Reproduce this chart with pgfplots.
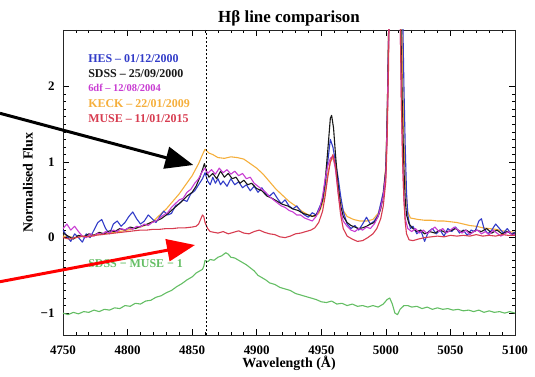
\documentclass[border=0pt]{standalone}
\usepackage{fontspec}
\setmainfont{Liberation Serif}
\usepackage{pgfplots}
\pgfplotsset{compat=1.18}
\usetikzlibrary{arrows.meta}
\definecolor{hesblue}{RGB}{50,60,200}
\definecolor{sdssblack}{RGB}{25,25,25}
\definecolor{sixdf}{RGB}{200,60,210}
\definecolor{keck}{RGB}{245,175,60}
\definecolor{muse}{RGB}{215,60,80}
\definecolor{diffgreen}{RGB}{100,190,100}
\begin{document}
\begin{tikzpicture}[x=1bp,y=1bp]
\begin{axis}[
  scale only axis, width=452bp, height=305bp,
  xmin=4750, xmax=5100, ymin=-1.29, ymax=2.75,
  xtick={4750,4800,4850,4900,4950,5000,5050,5100},
  xticklabels={4750,4800,4850,4900,4950,5000,5050,5100},
  minor x tick num=4,
  ytick={-1,0,1,2}, yticklabels={−1,0,1,2}, minor y tick num=9,
  every tick label/.append style={font=\fontsize{13}{15}\selectfont\bfseries},
  xticklabel style={yshift=-7bp},
  yticklabel style={xshift=-5bp},
  major tick length=6bp, minor tick length=3bp,
  every tick/.style={black, line width=0.7bp},
  axis line style={line width=0.9bp, black!85},
  title={Hβ line comparison},
  title style={font=\fontsize{17}{20}\selectfont\bfseries, yshift=-6bp},
  xlabel={Wavelength (Å)},
  ylabel={Normalised Flux},
  label style={font=\fontsize{14}{16}\selectfont\bfseries},
  xlabel style={yshift=5bp},
  ylabel style={yshift=1bp},
  every axis plot/.append style={line width=1.1bp, line join=round},
]
% KECK
\addplot[keck] coordinates {(4750,0.02)(4760,0.0)(4770,0.03)(4780,0.05)(4790,0.07)(4800,0.1)(4810,0.14)(4815,0.17)(4820,0.22)(4825,0.3)(4830,0.38)(4835,0.48)(4840,0.58)(4845,0.7)(4850,0.82)(4855,0.98)(4858,1.1)(4860,1.17)(4863,1.12)(4866,1.1)(4870,1.06)(4875,1.05)(4880,1.07)(4885,1.06)(4890,1.04)(4895,0.98)(4900,0.92)(4905,0.84)(4910,0.74)(4915,0.64)(4920,0.56)(4925,0.48)(4930,0.42)(4935,0.35)(4940,0.3)(4945,0.28)(4948,0.32)(4951,0.45)(4953,0.62)(4955,0.85)(4957,1.0)(4959,1.06)(4961,0.95)(4963,0.7)(4965,0.48)(4967,0.36)(4970,0.28)(4975,0.24)(4980,0.22)(4985,0.22)(4990,0.24)(4994,0.32)(4996,0.42)(4998,0.6)(5000,0.95)(5001,1.6)(5002,2.6)(5003,4)(5005,8)(5007,10)(5009,8.5)(5011,5.5)(5012,3.5)(5013,2.2)(5014,1.3)(5015,0.8)(5016,0.5)(5017,0.34)(5019,0.26)(5025,0.24)(5030,0.23)(5035,0.23)(5040,0.22)(5045,0.22)(5050,0.21)(5055,0.2)(5060,0.18)(5065,0.16)(5070,0.15)(5075,0.13)(5080,0.12)(5085,0.11)(5090,0.09)(5095,0.08)(5100,0.07)};
% HES
\addplot[hesblue] coordinates {(4750,0.1)(4753,0.02)(4756,-0.05)(4759,0.05)(4762,0.0)(4765,-0.06)(4768,0.05)(4771,0.0)(4774,0.1)(4777,0.2)(4780,0.24)(4783,0.12)(4786,0.05)(4789,0.18)(4792,0.22)(4795,0.15)(4798,0.2)(4801,0.28)(4804,0.34)(4807,0.25)(4810,0.18)(4813,0.22)(4816,0.3)(4819,0.25)(4822,0.2)(4825,0.28)(4828,0.35)(4831,0.3)(4834,0.32)(4837,0.42)(4840,0.45)(4843,0.5)(4846,0.48)(4849,0.58)(4852,0.62)(4855,0.7)(4858,0.78)(4860,0.86)(4862,0.75)(4864,0.7)(4866,0.8)(4868,0.72)(4870,0.78)(4872,0.7)(4874,0.75)(4877,0.68)(4880,0.78)(4883,0.7)(4886,0.74)(4889,0.66)(4892,0.7)(4895,0.62)(4898,0.68)(4901,0.6)(4904,0.66)(4907,0.58)(4910,0.55)(4913,0.6)(4916,0.52)(4919,0.45)(4922,0.5)(4925,0.42)(4928,0.38)(4931,0.42)(4934,0.35)(4937,0.3)(4940,0.27)(4943,0.33)(4946,0.3)(4949,0.42)(4951,0.5)(4953,0.7)(4955,1.0)(4957,1.3)(4959,1.2)(4961,1.0)(4963,0.8)(4965,0.55)(4967,0.35)(4970,0.18)(4973,0.12)(4976,0.16)(4979,0.1)(4982,0.18)(4985,0.27)(4988,0.18)(4991,0.22)(4994,0.3)(4996,0.45)(4998,0.6)(5000,0.9)(5001,1.5)(5002,2.5)(5003,3.8)(5005,7.5)(5007,10)(5009,8.5)(5011,6)(5012,4.5)(5013,3)(5014,2)(5015,1.2)(5016,0.6)(5017,0.3)(5019,0.12)(5021,0.15)(5024,0.05)(5027,0.1)(5030,-0.05)(5033,0.08)(5036,0.12)(5039,0.05)(5042,0.1)(5045,0.02)(5048,0.12)(5051,0.08)(5054,0.14)(5057,0.06)(5060,0.1)(5063,0.03)(5066,0.1)(5069,0.08)(5072,0.22)(5074,0.25)(5076,0.12)(5079,0.05)(5082,0.1)(5085,0.18)(5088,0.12)(5091,0.06)(5094,0.12)(5097,0.05)(5100,0.07)};
% SDSS
\addplot[sdssblack] coordinates {(4750,0.06)(4754,0.02)(4758,-0.02)(4762,0.03)(4766,0.01)(4770,0.05)(4774,0.03)(4778,0.07)(4782,0.05)(4786,0.09)(4790,0.08)(4794,0.12)(4798,0.1)(4802,0.14)(4806,0.12)(4810,0.15)(4814,0.17)(4818,0.2)(4822,0.22)(4826,0.25)(4830,0.3)(4834,0.36)(4838,0.42)(4842,0.48)(4846,0.55)(4850,0.6)(4853,0.68)(4856,0.8)(4858,0.9)(4859.5,0.98)(4861,0.88)(4863,0.8)(4866,0.85)(4869,0.78)(4872,0.88)(4875,0.8)(4878,0.85)(4881,0.78)(4884,0.8)(4887,0.72)(4890,0.76)(4893,0.7)(4896,0.72)(4900,0.65)(4904,0.62)(4908,0.55)(4912,0.52)(4916,0.48)(4920,0.44)(4924,0.42)(4928,0.38)(4932,0.36)(4936,0.32)(4940,0.3)(4943,0.28)(4946,0.3)(4949,0.38)(4951,0.5)(4953,0.75)(4955,1.15)(4957,1.58)(4958,1.62)(4959.5,1.45)(4961,1.1)(4963,0.7)(4965,0.42)(4967,0.28)(4970,0.2)(4973,0.16)(4976,0.14)(4979,0.12)(4982,0.13)(4985,0.15)(4988,0.18)(4991,0.2)(4994,0.28)(4996,0.38)(4998,0.55)(5000,0.9)(5001,1.6)(5002,2.6)(5003,4)(5005,8)(5007,10)(5009,8)(5010,5.5)(5011,3.5)(5012,2.4)(5013,1.5)(5014,0.9)(5015,0.5)(5016,0.3)(5018,0.18)(5021,0.12)(5024,0.08)(5027,0.1)(5030,0.05)(5034,0.08)(5038,0.06)(5042,0.1)(5046,0.07)(5050,0.09)(5054,0.12)(5058,0.08)(5062,0.1)(5066,0.06)(5070,0.1)(5074,0.08)(5078,0.12)(5082,0.06)(5086,0.1)(5090,0.05)(5094,0.08)(5098,0.04)(5100,0.06)};
% 6dF
\addplot[sixdf] coordinates {(4750,0.12)(4753,0.18)(4756,0.1)(4759,0.15)(4762,0.08)(4765,0.02)(4768,0.0)(4771,0.05)(4774,0.02)(4777,0.06)(4780,0.04)(4783,0.08)(4786,0.06)(4789,0.1)(4792,0.08)(4795,0.12)(4798,0.1)(4801,0.13)(4804,0.11)(4807,0.15)(4810,0.14)(4813,0.18)(4816,0.16)(4819,0.2)(4822,0.22)(4825,0.26)(4828,0.3)(4831,0.33)(4834,0.4)(4837,0.45)(4840,0.5)(4843,0.52)(4846,0.6)(4849,0.64)(4852,0.72)(4855,0.78)(4858,0.88)(4860,0.92)(4862,0.85)(4865,0.9)(4868,0.84)(4871,0.92)(4874,0.86)(4877,0.9)(4880,0.84)(4883,0.88)(4886,0.82)(4889,0.85)(4892,0.78)(4895,0.8)(4898,0.72)(4901,0.68)(4904,0.64)(4907,0.6)(4910,0.54)(4913,0.5)(4916,0.46)(4919,0.42)(4922,0.4)(4925,0.36)(4928,0.34)(4931,0.3)(4934,0.3)(4937,0.26)(4940,0.24)(4943,0.22)(4946,0.28)(4949,0.4)(4951,0.55)(4953,0.78)(4955,0.95)(4957,1.05)(4959,1.08)(4961,0.9)(4963,0.6)(4965,0.35)(4967,0.22)(4970,0.15)(4973,0.1)(4976,0.08)(4979,0.12)(4982,0.1)(4985,0.14)(4988,0.12)(4991,0.18)(4994,0.28)(4996,0.4)(4998,0.55)(5000,0.85)(5001,1.5)(5002,2.5)(5003,3.8)(5005,8)(5007,10)(5009,8)(5010,5)(5011,3)(5012,1.8)(5013,1)(5014,0.5)(5015,0.25)(5017,0.12)(5020,0.08)(5023,0.12)(5026,0.06)(5029,0.1)(5032,0.05)(5035,0.1)(5038,0.14)(5041,0.08)(5044,0.12)(5047,0.06)(5050,0.1)(5053,0.14)(5056,0.1)(5059,0.06)(5062,0.1)(5065,0.04)(5068,0.08)(5071,0.1)(5074,0.05)(5077,0.08)(5080,0.04)(5083,0.1)(5086,0.06)(5089,0.02)(5092,0.05)(5095,0.08)(5098,0.03)(5100,0.05)};
% MUSE
\addplot[muse] coordinates {(4750,0.0)(4755,-0.02)(4760,0.0)(4765,0.02)(4770,0.01)(4775,0.03)(4780,0.04)(4785,0.05)(4790,0.06)(4795,0.07)(4800,0.08)(4805,0.09)(4810,0.1)(4815,0.1)(4820,0.11)(4825,0.11)(4830,0.12)(4835,0.12)(4840,0.13)(4845,0.13)(4850,0.14)(4853,0.15)(4855,0.18)(4857,0.26)(4858,0.3)(4859,0.28)(4860,0.2)(4862,0.12)(4864,0.08)(4867,0.07)(4870,0.06)(4874,0.08)(4878,0.05)(4882,0.07)(4886,0.09)(4890,0.06)(4894,0.05)(4898,0.08)(4902,0.1)(4906,0.07)(4910,0.05)(4914,0.04)(4918,0.01)(4922,0.0)(4926,0.02)(4930,0.05)(4934,0.06)(4938,0.08)(4942,0.1)(4945,0.13)(4948,0.2)(4951,0.35)(4953,0.55)(4955,0.8)(4957,1.0)(4959,1.1)(4961,0.95)(4963,0.6)(4965,0.3)(4967,0.12)(4970,0.02)(4974,-0.02)(4978,-0.05)(4982,-0.04)(4986,0.0)(4990,0.05)(4993,0.12)(4996,0.25)(4998,0.42)(5000,0.75)(5001,1.3)(5002,2.2)(5003,3.5)(5005,8)(5007,10)(5009,8)(5010,5)(5011,3)(5012,1.8)(5013,1)(5014,0.5)(5015,0.2)(5016,0.05)(5018,-0.03)(5021,-0.04)(5025,-0.02)(5030,0.0)(5035,0.01)(5040,0.02)(5045,0.01)(5050,0.03)(5055,0.02)(5060,0.03)(5065,0.02)(5070,0.04)(5075,0.02)(5080,0.03)(5085,0.02)(5090,0.04)(5095,0.03)(5100,0.03)};
% SDSS - MUSE - 1
\addplot[diffgreen] coordinates {(4750,-1.0)(4754,-1.02)(4758,-0.99)(4762,-1.01)(4766,-0.98)(4770,-0.99)(4774,-0.96)(4778,-0.98)(4782,-0.95)(4786,-0.96)(4790,-0.93)(4794,-0.94)(4798,-0.9)(4802,-0.91)(4806,-0.87)(4810,-0.88)(4814,-0.84)(4818,-0.83)(4822,-0.79)(4826,-0.77)(4830,-0.73)(4834,-0.7)(4838,-0.65)(4842,-0.61)(4846,-0.56)(4850,-0.52)(4853,-0.47)(4856,-0.44)(4858,-0.42)(4859,-0.38)(4860,-0.3)(4862,-0.32)(4864,-0.29)(4867,-0.3)(4870,-0.26)(4873,-0.24)(4876,-0.2)(4878,-0.22)(4880,-0.26)(4883,-0.27)(4886,-0.3)(4889,-0.33)(4892,-0.36)(4895,-0.4)(4898,-0.44)(4901,-0.5)(4904,-0.53)(4907,-0.56)(4910,-0.6)(4914,-0.62)(4918,-0.66)(4922,-0.68)(4926,-0.7)(4930,-0.74)(4934,-0.76)(4938,-0.78)(4942,-0.8)(4946,-0.82)(4950,-0.85)(4954,-0.86)(4958,-0.84)(4962,-0.88)(4966,-0.87)(4970,-0.9)(4974,-0.88)(4978,-0.91)(4982,-0.9)(4986,-0.92)(4990,-0.9)(4994,-0.92)(4998,-0.88)(5001,-0.82)(5003,-0.8)(5005,-0.88)(5007,-1.0)(5009,-1.02)(5011,-0.95)(5014,-0.9)(5017,-0.9)(5020,-0.92)(5024,-0.91)(5028,-0.94)(5032,-0.92)(5036,-0.95)(5040,-0.93)(5044,-0.95)(5048,-0.94)(5052,-0.96)(5056,-0.95)(5060,-0.97)(5064,-0.96)(5068,-0.98)(5072,-0.96)(5076,-0.99)(5080,-0.97)(5084,-0.99)(5088,-0.98)(5092,-1.0)(5096,-0.98)(5100,-1.0)};
% H beta rest wavelength
\addplot[black, line width=0.9bp, dash pattern=on 2bp off 2bp] coordinates {(4861,-1.29)(4861,2.75)};
% labels
\node[anchor=west, text=hesblue, font=\fontsize{12}{14}\selectfont\bfseries, inner sep=0pt] at (axis cs:4769.4,2.375) {HES – 01/12/2000};
\node[anchor=west, text=sdssblack, font=\fontsize{12}{14}\selectfont\bfseries, inner sep=0pt] at (axis cs:4769.4,2.176) {SDSS – 25/09/2000};
\node[anchor=west, text=sixdf, font=\fontsize{10.5}{12}\selectfont\bfseries, inner sep=0pt] at (axis cs:4769.4,1.977) {6df – 12/08/2004};
\node[anchor=west, text=keck, font=\fontsize{12}{14}\selectfont\bfseries, inner sep=0pt] at (axis cs:4769.4,1.778) {KECK – 22/01/2009};
\node[anchor=west, text=muse, font=\fontsize{12}{14}\selectfont\bfseries, inner sep=0pt] at (axis cs:4769.4,1.58) {MUSE – 11/01/2015};
\node[anchor=west, text=diffgreen, font=\fontsize{12}{14}\selectfont\bfseries, inner sep=0pt] at (axis cs:4769.4,-0.34) {SDSS − MUSE − 1};
\end{axis}
\draw[line width=3bp, -{Triangle[length=28bp,width=22bp]}] (-63,221.7) -- (130.3,170);
\draw[red, line width=3bp, -{Triangle[length=28bp,width=22bp]}] (-63,53.3) -- (132,90);
\pgfresetboundingbox
\path[use as bounding box] (-63,-41) rectangle (472,335);
\end{tikzpicture}
\end{document}
